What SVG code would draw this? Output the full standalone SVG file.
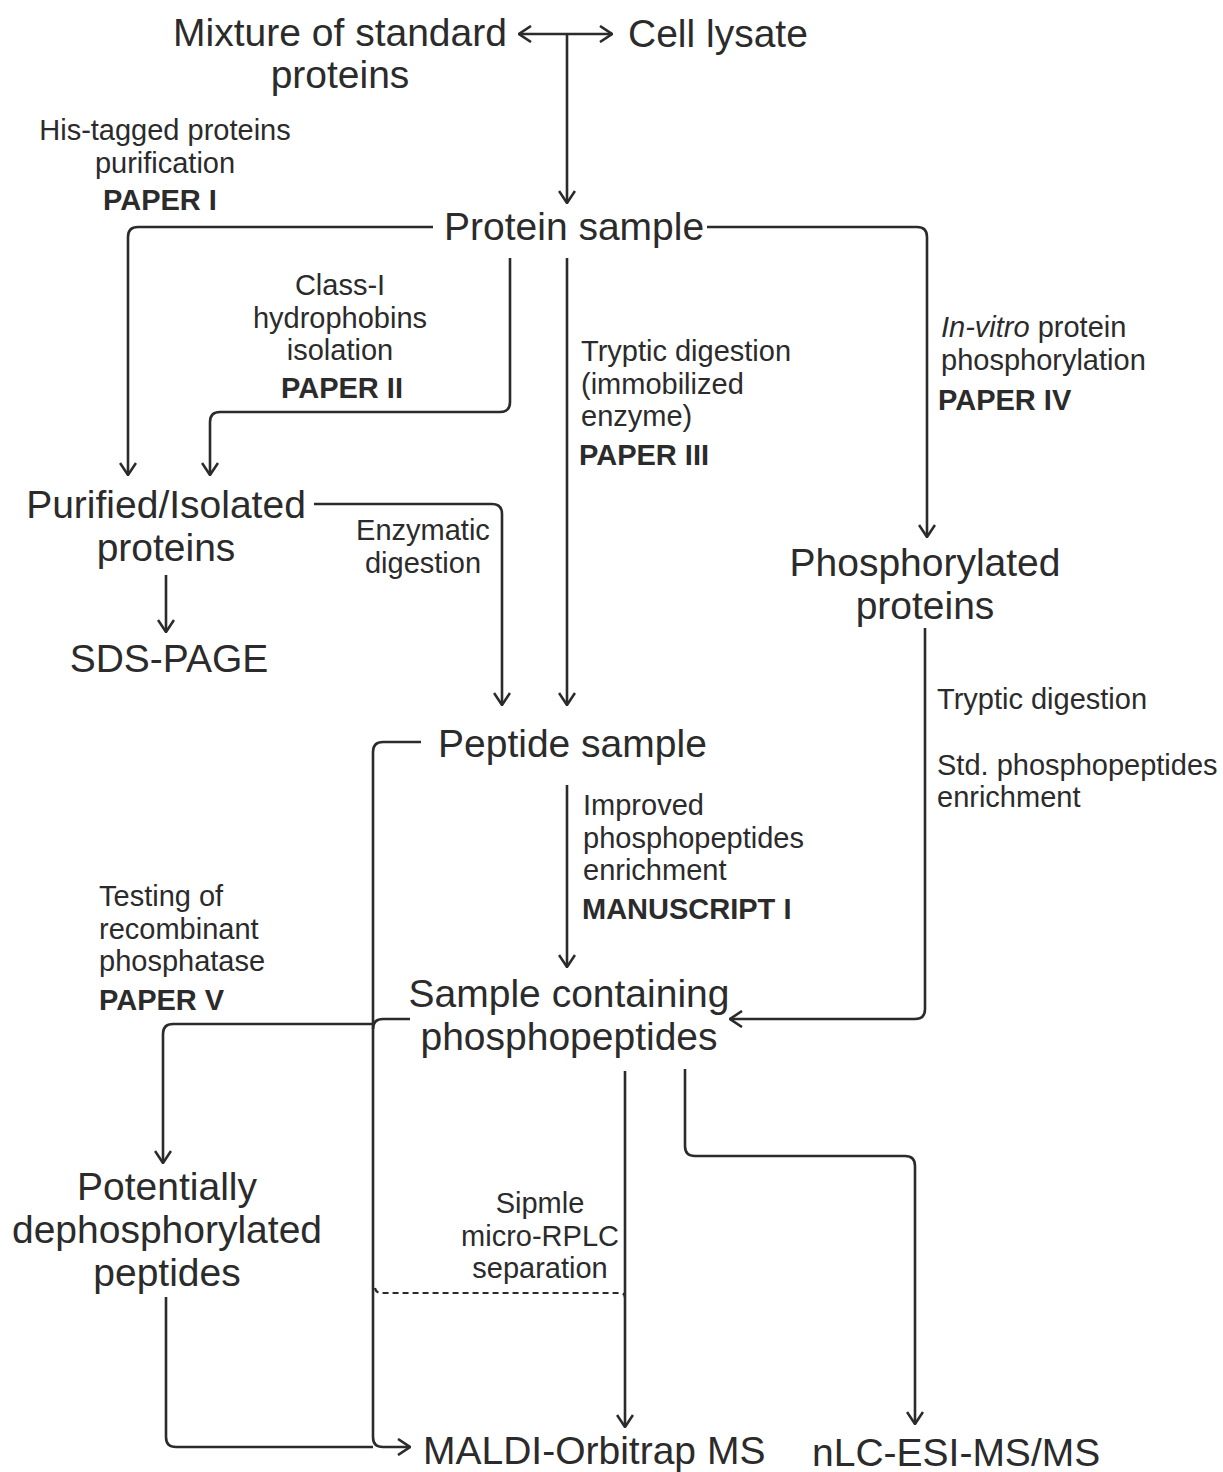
<svg xmlns="http://www.w3.org/2000/svg" width="1223" height="1472" viewBox="0 0 1223 1472">
<style>
text{font-family:"Liberation Sans",Arial,sans-serif;fill:#2b2b2b}
.big{font-size:39px}
.sm{font-size:29px}
.b{font-weight:bold}
.mid{text-anchor:middle}
.c path{fill:none;stroke:#2b2b2b;stroke-width:2.6}
.c .d{stroke-dasharray:6,4;stroke-width:2.2}
</style>
<defs>
<marker id="ah" viewBox="0 0 14 18" refX="13" refY="9" markerWidth="14" markerHeight="18" orient="auto-start-reverse" markerUnits="userSpaceOnUse">
<path d="M1,1 L13,9 L1,17" fill="none" stroke="#2b2b2b" stroke-width="2.6"/>
</marker>
</defs>
<rect width="1223" height="1472" fill="#fff"/>
<g class="c" id="connectors">
<path d="M519,34 H612" marker-start="url(#ah)" marker-end="url(#ah)"/>
<path d="M567,34 V203" marker-end="url(#ah)"/>
<path d="M433,227 H138 Q128,227 128,237 V475" marker-end="url(#ah)"/>
<path d="M510,258 V402 Q510,412 500,412 H220 Q210,412 210,422 V475" marker-end="url(#ah)"/>
<path d="M567,258 V705" marker-end="url(#ah)"/>
<path d="M707,227 H917 Q927,227 927,237 V537" marker-end="url(#ah)"/>
<path d="M314,504 H492 Q502,504 502,514 V705" marker-end="url(#ah)"/>
<path d="M166,575 V632" marker-end="url(#ah)"/>
<path d="M925,628 V1009 Q925,1019 915,1019 H730" marker-end="url(#ah)"/>
<path d="M421,742 H383 Q373,742 373,752 V1437 Q373,1447 383,1447 H410" marker-end="url(#ah)"/>
<path d="M410,1019 H383 Q373,1019 373,1029"/>
<path d="M373,1024 H173 Q163,1024 163,1034 V1163" marker-end="url(#ah)"/>
<path d="M166,1297 V1437 Q166,1447 176,1447 H373"/>
<path d="M567,785 V967" marker-end="url(#ah)"/>
<path d="M625,1071 V1427" marker-end="url(#ah)"/>
<path d="M685,1069 V1146 Q685,1156 695,1156 H905 Q915,1156 915,1166 V1424" marker-end="url(#ah)"/>
<path class="d" d="M375,1288 Q376,1293 381,1293 H620 Q625,1293 625,1298"/>
</g>
<g id="n-mixture"><text class="big mid" x="340" y="46">Mixture of standard</text><text class="big mid" x="340" y="88">proteins</text></g>
<g id="n-lysate"><text class="big" x="628" y="47">Cell lysate</text></g>
<g id="l-his"><text class="sm mid" x="165" y="140">His-tagged proteins</text><text class="sm mid" x="165" y="173">purification</text><text class="sm b mid" x="160" y="210">PAPER I</text></g>
<g id="n-protein"><text class="big" x="444" y="240">Protein sample</text></g>
<g id="l-class"><text class="sm mid" x="340" y="295">Class-I</text><text class="sm mid" x="340" y="328">hydrophobins</text><text class="sm mid" x="340" y="360">isolation</text><text class="sm b mid" x="342" y="398">PAPER II</text></g>
<g id="l-tryptic"><text class="sm" x="581" y="361">Tryptic digestion</text><text class="sm" x="581" y="394">(immobilized</text><text class="sm" x="581" y="426">enzyme)</text><text class="sm b" x="579" y="465">PAPER III</text></g>
<g id="l-invitro"><text class="sm" x="941" y="337"><tspan font-style="italic">In-vitro</tspan> protein</text><text class="sm" x="941" y="370">phosphorylation</text><text class="sm b" x="938" y="410">PAPER IV</text></g>
<g id="n-purified"><text class="big mid" x="166" y="518">Purified/Isolated</text><text class="big mid" x="166" y="561">proteins</text></g>
<g id="l-enz"><text class="sm mid" x="423" y="540">Enzymatic</text><text class="sm mid" x="423" y="573">digestion</text></g>
<g id="n-sds"><text class="big mid" x="169" y="672">SDS-PAGE</text></g>
<g id="n-phosprot"><text class="big mid" x="925" y="576">Phosphorylated</text><text class="big mid" x="925" y="619">proteins</text></g>
<g id="l-std"><text class="sm" x="937" y="709">Tryptic digestion</text><text class="sm" x="937" y="775">Std. phosphopeptides</text><text class="sm" x="937" y="807">enrichment</text></g>
<g id="n-peptide"><text class="big" x="438" y="757">Peptide sample</text></g>
<g id="l-improved"><text class="sm" x="583" y="815">Improved</text><text class="sm" x="583" y="848">phosphopeptides</text><text class="sm" x="583" y="880">enrichment</text><text class="sm b" x="582" y="919">MANUSCRIPT I</text></g>
<g id="l-testing"><text class="sm" x="99" y="906">Testing of</text><text class="sm" x="99" y="939">recombinant</text><text class="sm" x="99" y="971">phosphatase</text><text class="sm b" x="99" y="1010">PAPER V</text></g>
<g id="n-sample"><text class="big mid" x="569" y="1007">Sample containing</text><text class="big mid" x="569" y="1050">phosphopeptides</text></g>
<g id="n-dephos"><text class="big mid" x="167" y="1200">Potentially</text><text class="big mid" x="167" y="1243">dephosphorylated</text><text class="big mid" x="167" y="1286">peptides</text></g>
<g id="l-rplc"><text class="sm mid" x="540" y="1213">Sipmle</text><text class="sm mid" x="540" y="1246">micro-RPLC</text><text class="sm mid" x="540" y="1278">separation</text></g>
<g id="n-maldi"><text class="big" x="423" y="1464">MALDI-Orbitrap MS</text></g>
<g id="n-nlc"><text class="big" x="812" y="1466">nLC-ESI-MS/MS</text></g>
</svg>
